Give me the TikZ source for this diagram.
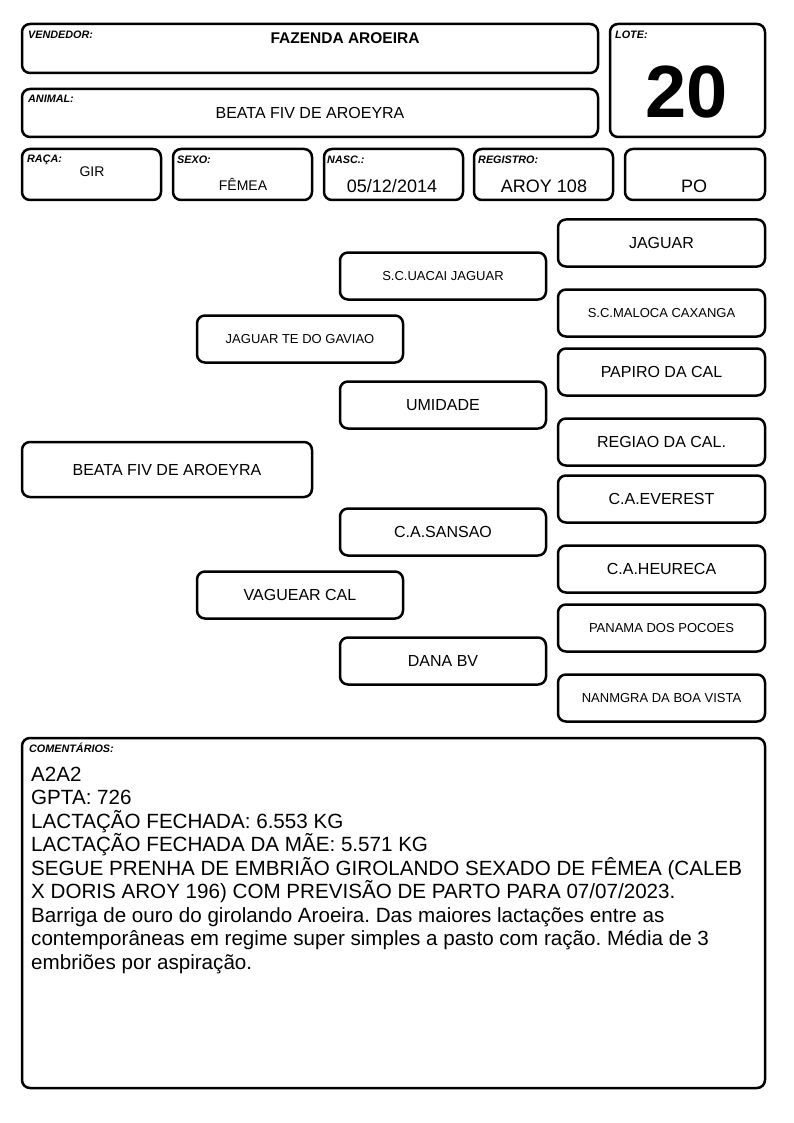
\documentclass[tikz,border=0pt]{standalone}
\usepackage{fontspec}
\setmainfont{Liberation Sans}
\frenchspacing
\begin{document}
\begin{tikzpicture}[x=1pt,y=-1pt,
  box/.style={draw=black, line width=2.5pt, rounded corners=8pt, fill=white, inner sep=0pt, align=center},
  lbl/.style={anchor=west, inner sep=0pt, font=\fontsize{10.8}{12}\selectfont\bfseries\itshape},
  val/.style={inner sep=0pt},
  pr/.style={box, minimum width=207pt, minimum height=47pt},
  pm/.style={box, minimum width=206pt, minimum height=47pt},
  big/.style={font=\fontsize{16}{19}\selectfont},
  sm/.style={font=\fontsize{13}{16}\selectfont}]
\useasboundingbox[fill=white] (0,0) rectangle (794,1123);
% header
\node[box, minimum width=576pt, minimum height=49pt] (vend) at (310,48.5) {};
\node[lbl] (vendl) at (28,35) {VENDEDOR:};
\node[val, font=\fontsize{15.5}{18}\selectfont\bfseries] (vendv) at (345,38) {FAZENDA AROEIRA};
\node[box, minimum width=576pt, minimum height=48pt] (anim) at (310,113) {};
\node[lbl] (animl) at (28,99) {ANIMAL:};
\node[val, big] (animv) at (310,113) {BEATA FIV DE AROEYRA};
\node[box, minimum width=155pt, minimum height=113pt] (lote) at (687.5,80.5) {};
\node[lbl] (lotel) at (615,35) {LOTE:};
\node[val, font=\fontsize{74}{84}\selectfont\bfseries] (lotev) at (687,92) {20};
% row
\node[box, minimum width=139pt, minimum height=51pt] (raca) at (91.5,174.5) {};
\node[lbl] (racal) at (27,160) {RAÇA:};
\node[val, font=\fontsize{14}{17}\selectfont] (racav) at (92,172) {GIR};
\node[box, minimum width=139pt, minimum height=51pt] (sexo) at (242.5,174.5) {};
\node[lbl] (sexol) at (177,160) {SEXO:};
\node[val, font=\fontsize{14}{17}\selectfont] (sexov) at (243,184) {FÊMEA};
\node[box, minimum width=139pt, minimum height=51pt] (nasc) at (393.5,174.5) {};
\node[lbl] (nascl) at (327,160) {NASC.:};
\node[val, font=\fontsize{18}{21}\selectfont] (nascv) at (392,186) {05/12/2014};
\node[box, minimum width=139pt, minimum height=51pt] (reg) at (543.5,174.5) {};
\node[lbl] (regl) at (478,160) {REGISTRO:};
\node[val, font=\fontsize{18}{21}\selectfont] (regv) at (544,186) {AROY 108};
\node[box, minimum width=140pt, minimum height=51pt] (po) at (695,174.5) {};
\node[val, font=\fontsize{18}{21}\selectfont] (pov) at (694,186) {PO};
% pedigree
\node[box, big, minimum width=290pt, minimum height=55pt] (p0) at (167,469.5) {BEATA FIV DE AROEYRA};
\node[box, sm, minimum width=206pt, minimum height=47pt] (p1) at (300,339) {JAGUAR TE DO GAVIAO};
\node[box, big, minimum width=206pt, minimum height=47pt] (p2) at (300,595) {VAGUEAR CAL};
\node[pm, sm] (p3) at (443,276) {S.C.UACAI JAGUAR};
\node[pm, big] (p4) at (443,405) {UMIDADE};
\node[pm, big] (p5) at (443,532) {C.A.SANSAO};
\node[pm, big] (p6) at (443,661) {DANA BV};
\node[pr, big] (p7) at (661.5,243) {JAGUAR};
\node[pr, sm] (p8) at (661.5,313) {S.C.MALOCA CAXANGA};
\node[pr, big] (p9) at (661.5,372) {PAPIRO DA CAL};
\node[pr, big] (p10) at (661.5,442) {REGIAO DA CAL.};
\node[pr, big] (p11) at (661.5,499) {C.A.EVEREST};
\node[pr, big] (p12) at (661.5,569) {C.A.HEURECA};
\node[pr, sm] (p13) at (661.5,628) {PANAMA DOS POCOES};
\node[pr, sm] (p14) at (661.5,698) {NANMGRA DA BOA VISTA};
% comments
\node[box, minimum width=743pt, minimum height=350pt] (com) at (393.5,913) {};
\node[lbl] (coml) at (29,748) {COMENTÁRIOS:};
\node[anchor=north west, inner sep=0pt, align=left, font=\fontsize{20.6}{23.5}\selectfont] (comv) at (31,766.5) {A2A2\\
GPTA: 726\\
LACTAÇÃO FECHADA: 6.553 KG\\
LACTAÇÃO FECHADA DA MÃE: 5.571 KG\\
SEGUE PRENHA DE EMBRIÃO GIROLANDO SEXADO DE FÊMEA (CALEB\\
X DORIS AROY 196) COM PREVISÃO DE PARTO PARA 07/07/2023.\\
Barriga de ouro do girolando Aroeira. Das maiores lactações entre as\\
contemporâneas em regime super simples a pasto com ração. Média de 3\\
embriões por aspiração.};
\end{tikzpicture}
\end{document}
